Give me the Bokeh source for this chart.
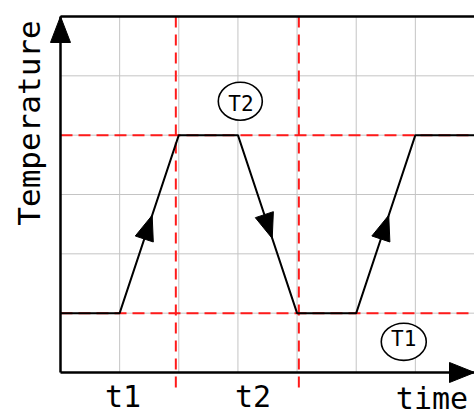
import math
from bokeh.plotting import figure
from bokeh.models import Range1d
from bokeh.core.properties import value
from bokeh.embed import file_html
from bokeh.resources import INLINE

# ---------------- data ----------------
time_pts = [0, 1, 2, 3, 4, 5, 6, 7]
temp_pts = [1, 1, 4, 4, 1, 1, 4, 4]
T1_level = 1
T2_level = 4
t_marks = [1.95, 4.03]
grid_x = [0, 1, 2, 3, 4, 5, 6, 7]
grid_y = [0, 1, 2, 3, 4, 5, 6]
arrow_seg_start = [1, 3, 5]
arrow_fracs = [0.55, 0.58, 0.55]
tick_labels = ["t1", "t2"]
tick_pos = [1.057, 3.255]
level_labels = ["T1", "T2"]
level_x = [5.804, 3.04]
level_y = [0.517, 4.571]
x_label = "time"
y_label = "Temperature"

# ---------------- layout ----------------
W, H = 474, 415
X0, X1 = -1.01449, 7.0
Y0, Y1 = -0.72472, 6.26966
sx = W / (X1 - X0)
sy = H / (Y1 - Y0)

p = figure(width=W, height=H, x_range=Range1d(X0, X1), y_range=Range1d(Y0, Y1),
           x_axis_type=None, y_axis_type=None, toolbar_location=None,
           output_backend="svg", outline_line_color=None,
           background_fill_color="white", border_fill_color="white")
p.min_border = 0
p.min_border_left = 0
p.min_border_right = 0
p.min_border_top = 0
p.min_border_bottom = 0

xmin, xmax = grid_x[0], grid_x[-1]
ymin, ymax = grid_y[0], grid_y[-1]

# grid
p.segment(x0=grid_x, y0=[ymin] * len(grid_x), x1=grid_x, y1=[ymax] * len(grid_x),
          line_color="#c4c4c4", line_width=1)
p.segment(x0=[xmin] * len(grid_y), y0=grid_y, x1=[xmax] * len(grid_y), y1=grid_y,
          line_color="#c4c4c4", line_width=1)

# red dashed reference lines
p.segment(x0=[xmin, xmin], y0=[T1_level, T2_level], x1=[xmax, xmax], y1=[T1_level, T2_level],
          line_color="#ff1a1a", line_width=2, line_dash="12 6")
p.segment(x0=t_marks, y0=[ymax] * len(t_marks), x1=t_marks, y1=[-0.354] * len(t_marks),
          line_color="#ff1a1a", line_width=2, line_dash="11 7")

# axes and top border
p.line(x=[xmin, xmin], y=[ymin, ymax], line_color="black", line_width=2.5)
p.line(x=[xmin, xmax], y=[ymin, ymin], line_color="black", line_width=2.5)
p.line(x=[xmin, xmax], y=[ymax, ymax], line_color="black", line_width=2.5)

# temperature curve
p.line(x=time_pts, y=temp_pts, line_color="black", line_width=2)


def head(tip_x, tip_y, dxp, dyp, length=25.0, half_w=9.5):
    n = math.hypot(dxp, dyp)
    ux, uy = dxp / n, dyp / n
    bx, by = -ux * length, -uy * length
    nx, ny = -uy * half_w, ux * half_w
    xs = [tip_x, tip_x + (bx + nx) / sx, tip_x + (bx - nx) / sx]
    ys = [tip_y, tip_y + (by + ny) / sy, tip_y + (by - ny) / sy]
    return xs, ys


hx, hy = [], []
for i, f in zip(arrow_seg_start, arrow_fracs):
    xa, ya = time_pts[i], temp_pts[i]
    xb, yb = time_pts[i + 1], temp_pts[i + 1]
    tx, ty = xa + f * (xb - xa), ya + f * (yb - ya)
    xs, ys = head(tx, ty, (xb - xa) * sx, (yb - ya) * sy)
    hx.append(xs)
    hy.append(ys)
# axis arrow heads
xs, ys = head(xmin, ymax, 0, 1, 26, 10)
hx.append(xs); hy.append(ys)
xs, ys = head(xmax, ymin, 1, 0, 25, 10)
hx.append(xs); hy.append(ys)
p.patches(xs=hx, ys=hy, fill_color="black", line_color="black", line_width=1)

# level markers
p.ellipse(x=level_x, y=level_y, width=[0.761, 0.744], height=[0.624, 0.64],
          fill_color="white", line_color="black", line_width=1.6)
p.text(x=[5.804, 3.052], y=[0.561, 4.53], text=level_labels, text_align="center",
       text_baseline="alphabetic", text_font=value("DejaVu Sans Mono"),
       text_font_size=value("21px"), text_color="black")

# tick labels
font = value("DejaVu Sans Mono")
p.text(x=tick_pos, y=[-0.403] * len(tick_pos), text=tick_labels, text_align="center",
       text_baseline="alphabetic", text_font=font, text_font_size=value("30px"),
       text_color="black")
p.text(x=[6.281], y=[-0.434], text=[x_label], text_align="center",
       text_baseline="alphabetic", text_font=font, text_font_size=value("30px"),
       text_color="black")
p.text(x=[-0.541], y=[4.205], text=[y_label], angle=math.pi / 2, text_align="center",
       text_baseline="alphabetic", text_font=font, text_font_size=value("31px"),
       text_color="black")

open("out.html", "w").write(file_html(p, INLINE))
